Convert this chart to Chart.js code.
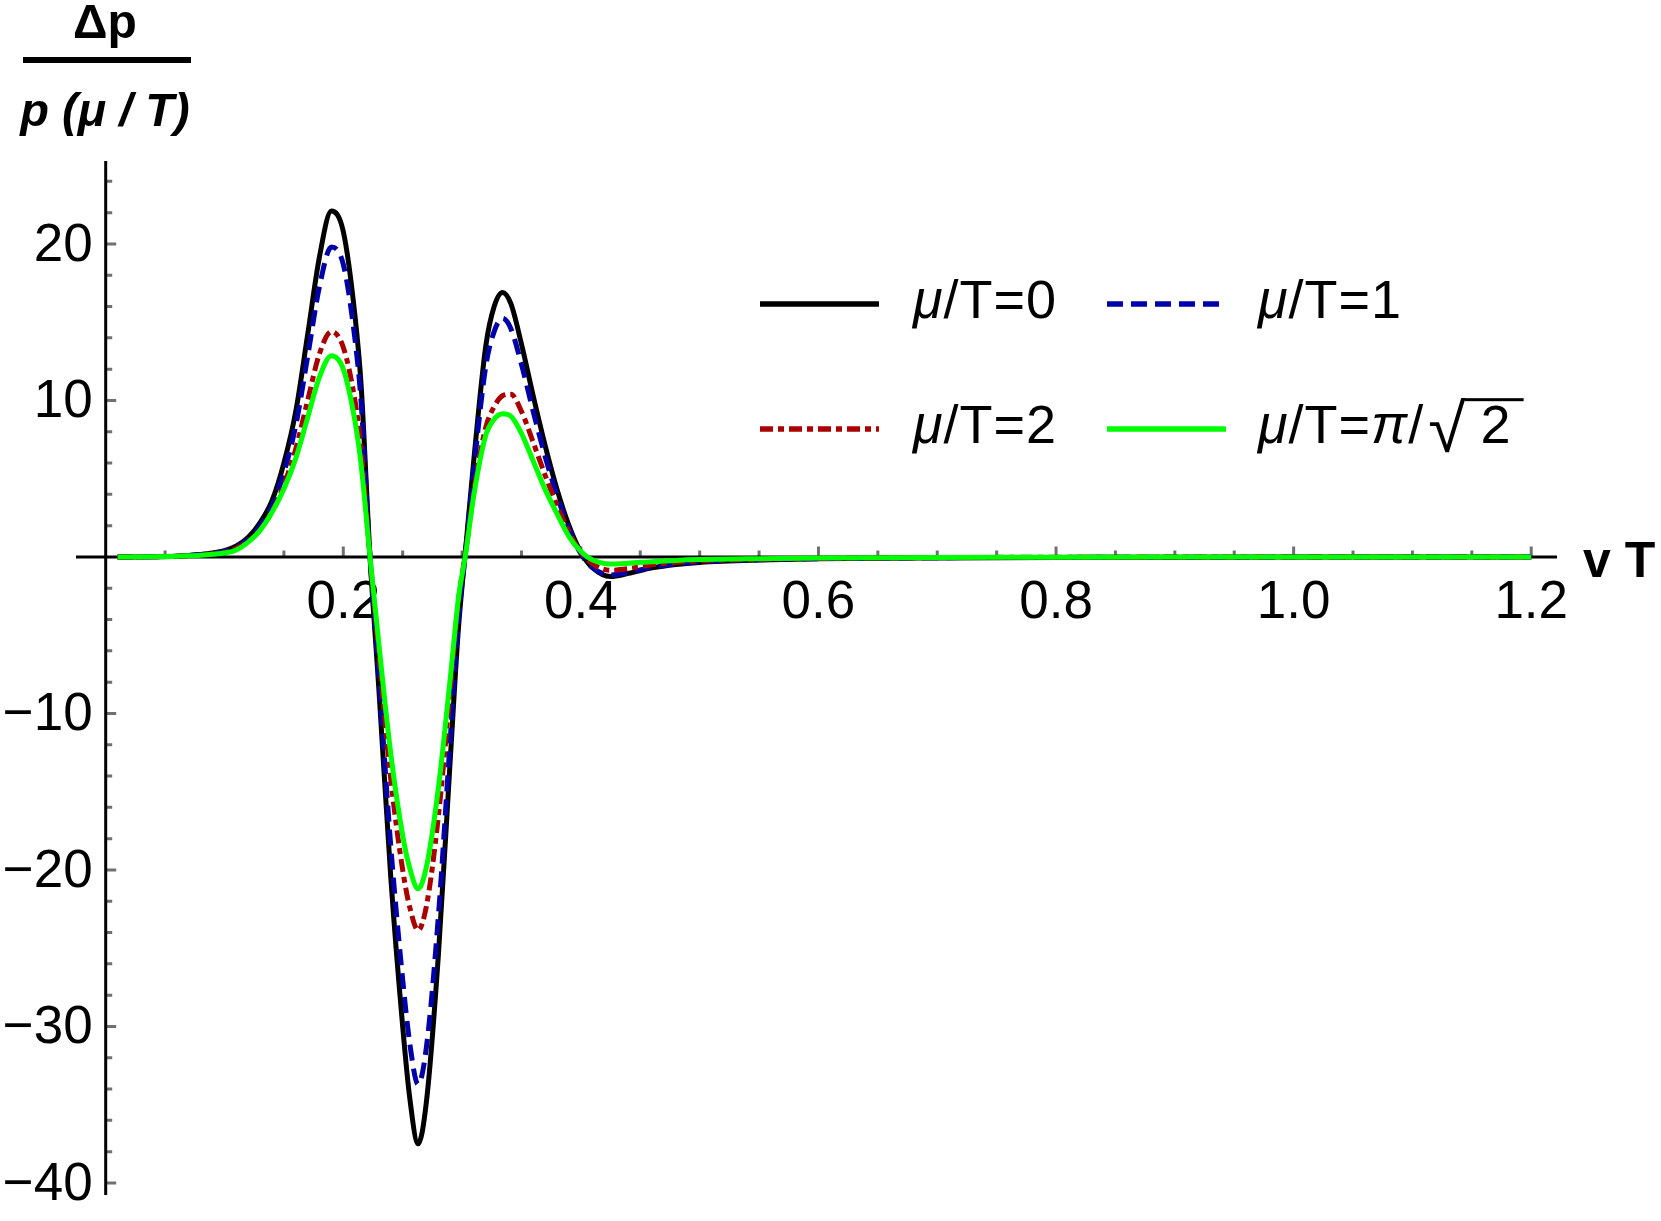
<!DOCTYPE html>
<html lang="en">
<head>
<meta charset="UTF-8">
<title>Delta p / p vs vT</title>
<script src="https://cdn.jsdelivr.net/npm/chart.js@4.4.0/dist/chart.umd.min.js"></script>
<style>
  html, body { margin: 0; padding: 0; background: #fff; }
  canvas { display: block; }
</style>
</head>
<body>
<canvas id="chart" width="1661" height="1221"></canvas>
<script>
// values (x = v T)
const vT = [0.01, 0.02, 0.04, 0.06, 0.07, 0.08, 0.09, 0.10, 0.11, 0.12,
            0.13, 0.14, 0.15, 0.16, 0.17, 0.18, 0.19, 0.20, 0.21, 0.215,
            0.2225, 0.23, 0.24, 0.25, 0.256, 0.263, 0.27, 0.28, 0.29, 0.297,
            0.303, 0.31, 0.32, 0.327, 0.334, 0.341, 0.35, 0.36, 0.37, 0.38,
            0.39, 0.40, 0.41, 0.425, 0.44, 0.46, 0.48, 0.50, 0.55, 0.60,
            0.70, 0.80, 0.90, 1.0, 1.1, 1.2];

const mu0 = [0, 0, 0.01, 0.05, 0.1, 0.16, 0.25, 0.4, 0.7, 1.25,
             2.2, 3.6, 6.0, 9.3, 14.2, 19.2, 22.1, 20.8, 15.3, 11.0,
             0, -8.5, -20.5, -30, -34.6, -37.5, -34.8, -25.5, -13, -4.5,
             0.5, 6.3, 13.5, 16.0, 16.9, 16.2, 13.6, 10.25, 7.1, 4.3,
             2.0, 0.3, -0.7, -1.25, -1.05, -0.7, -0.48, -0.35, -0.2, -0.12,
             -0.06, -0.03, -0.02, -0.01, 0, 0];

const mu1 = [0, 0, 0.01, 0.05, 0.09, 0.15, 0.23, 0.37, 0.64, 1.13,
             2.0, 3.25, 5.4, 8.4, 12.8, 17.3, 19.8, 18.7, 13.8, 9.9,
             0, -7.7, -18.5, -27, -31.1, -33.7, -31.3, -23, -11.7, -4.0,
             0.45, 5.7, 12.2, 14.4, 15.25, 14.6, 12.3, 9.25, 6.4, 3.9,
             1.8, 0.2, -0.7, -1.15, -1.0, -0.65, -0.45, -0.32, -0.18, -0.11,
             -0.05, -0.03, -0.02, -0.01, 0, 0];

const mu2 = [0, 0, 0.01, 0.04, 0.07, 0.12, 0.2, 0.3, 0.55, 1.0,
             1.75, 2.9, 4.6, 6.9, 10.0, 13.0, 14.4, 13.4, 9.9, 7.0,
             0, -6.3, -14.2, -20.0, -22.4, -23.85, -22.3, -16.6, -8.6, -2.8,
             0.3, 4.3, 8.3, 9.6, 10.3, 10.4, 9.3, 7.3, 5.2, 3.3,
             1.6, 0.3, -0.45, -0.85, -0.75, -0.5, -0.35, -0.25, -0.15, -0.09,
             -0.04, -0.02, -0.01, 0, 0, 0];

const muPi = [0, 0, 0.01, 0.04, 0.07, 0.11, 0.17, 0.25, 0.45, 0.95,
              1.7, 2.85, 4.35, 6.3, 8.9, 11.5, 12.85, 12.0, 8.6, 5.9,
              0, -5.6, -12.6, -17.8, -19.9, -21.2, -19.8, -14.8, -7.8, -2.6,
              0.2, 4.0, 7.8, 8.8, 9.15, 9.0, 7.9, 6.1, 4.3, 2.75,
              1.3, 0.35, -0.2, -0.45, -0.4, -0.3, -0.22, -0.17, -0.11, -0.07,
              -0.03, -0.02, -0.01, 0, 0, 0];

const seriesLabels = ['μ/T=0', 'μ/T=1', 'μ/T=2', 'μ/T=π/√2'];
const xMajorTicks = [0.2, 0.4, 0.6, 0.8, 1.0, 1.2];
const yMajorTicks = [-40, -30, -20, -10, 10, 20];

const FONT = '"Liberation Sans", Arial, sans-serif';
Chart.defaults.font.family = FONT;

const styles = [
  { color: '#000000', dash: [], order: 3 },
  { color: '#0000AA', dash: [16, 8], order: 2 },
  { color: '#AA0000', dash: [13, 5, 6, 5], order: 1 },
  { color: '#00FF00', dash: [], order: 0 }
];
const allY = [mu0, mu1, mu2, muPi];

const datasets = allY.map((ys, i) => ({
  label: seriesLabels[i],
  data: vT.map((x, k) => ({ x: x, y: ys[k] })),
  borderColor: styles[i].color,
  borderDash: styles[i].dash,
  borderWidth: 5,
  pointRadius: 0,
  fill: false,
  cubicInterpolationMode: 'monotone',
  order: styles[i].order
}));

const noPad = s => { s.paddingTop = 0; s.paddingBottom = 0; s.paddingLeft = 0; s.paddingRight = 0; };

// axes lines, tick marks and y tick labels, drawn under the curves
const axesDecor = {
  id: 'axesDecor',
  beforeDatasetsDraw(chart) {
    const { ctx, chartArea, scales: { x, y } } = chart;
    const x0 = x.getPixelForValue(0), y0 = y.getPixelForValue(0);
    ctx.save();
    ctx.strokeStyle = '#707070';
    ctx.lineWidth = 3;
    ctx.beginPath();
    for (let i = 1; i <= 24; i++) {
      const px = x.getPixelForValue(i * 0.05);
      const len = i % 4 === 0 ? 9 : 5;
      ctx.moveTo(px, y0); ctx.lineTo(px, y0 - 1.5 - len);
    }
    for (let v = -40; v <= 24; v += 2) {
      if (v === 0) continue;
      const py = y.getPixelForValue(v);
      const len = v % 10 === 0 ? 9 : 5;
      ctx.moveTo(x0, py); ctx.lineTo(x0 + 1.5 + len, py);
    }
    ctx.stroke();
    ctx.strokeStyle = '#000';
    ctx.lineWidth = 3;
    ctx.beginPath();
    ctx.moveTo(chartArea.left, y0); ctx.lineTo(chartArea.right, y0);
    ctx.moveTo(x0, chartArea.top); ctx.lineTo(x0, chartArea.bottom);
    ctx.stroke();

    ctx.fillStyle = '#000';
    ctx.font = '53px ' + FONT;
    ctx.textAlign = 'right';
    ctx.textBaseline = 'middle';
    yMajorTicks.forEach(v => {
      const label = v < 0 ? '\u2212' + Math.abs(v) : String(v);
      ctx.fillText(label, x0 - 13, y.getPixelForValue(v) + 2);
    });
    ctx.restore();
  }
};

function drawRich(ctx, text, x, y, size) {
  ctx.letterSpacing = '1px';
  for (let k = 0; k < text.length; k++) {
    const ch = text[k];
    const italic = ch === 'μ' || ch === 'π';
    if (ch === '√') {
      ctx.font = '68px ' + FONT;
      ctx.fillText(ch, x + 4, y + 9);
      x += ctx.measureText(ch).width + 18;
      continue;
    }
    ctx.font = (italic ? 'italic ' : '') + size + 'px ' + FONT;
    ctx.fillText(ch, x, y);
    const w = ctx.measureText(ch).width;
    if (text[k - 1] === '√') {
      ctx.fillRect(x - 16, y - size * 0.83, w + 28, 3);
    }
    x += w;
  }
  ctx.letterSpacing = '0px';
}

// legend, axis titles
const annotations = {
  id: 'annotations',
  afterDraw(chart) {
    const { ctx } = chart;
    ctx.save();
    ctx.fillStyle = '#000';
    ctx.textBaseline = 'alphabetic';
    const rows = [[760, 304, 913], [1107, 304, 1258], [760, 429, 913], [1107, 429, 1258]];
    rows.forEach((r, i) => {
      ctx.strokeStyle = styles[i].color;
      ctx.lineWidth = 5.5;
      ctx.setLineDash(styles[i].dash);
      ctx.beginPath();
      ctx.moveTo(r[0], r[1]); ctx.lineTo(r[0] + 119, r[1]);
      ctx.stroke();
      ctx.setLineDash([]);
      drawRich(ctx, seriesLabels[i], r[2], r[1] + 14, 54);
    });

    // y title: fraction
    ctx.textAlign = 'center';
    ctx.font = 'bold 48px ' + FONT;
    ctx.fillText('Δp', 105, 38);
    ctx.fillRect(23, 57, 168, 6);
    ctx.font = 'italic bold 47px ' + FONT;
    ctx.fillText('p (μ / T)', 105, 126);

    // x title
    ctx.textAlign = 'left';
    ctx.font = 'bold 50px ' + FONT;
    ctx.fillText('v T', 1583, 577);
    ctx.restore();
  }
};

new Chart(document.getElementById('chart').getContext('2d'), {
  type: 'line',
  data: { datasets: datasets },
  options: {
    responsive: false,
    animation: false,
    events: [],
    layout: { padding: { left: 76, right: 104, top: 161, bottom: 26 } },
    plugins: { legend: { display: false }, tooltip: { enabled: false } },
    scales: {
      x: {
        type: 'linear',
        position: { y: 0 },
        min: -0.025,
        max: 1.2217,
        grid: { display: false, drawTicks: false },
        border: { display: false },
        afterFit: noPad,
        afterBuildTicks: s => { s.ticks = xMajorTicks.map(v => ({ value: v })); },
        ticks: {
          autoSkip: false, maxRotation: 0, padding: 15,
          color: '#000', font: { size: 53 },
          callback: v => Number(v).toFixed(1)
        }
      },
      y: {
        type: 'linear',
        position: { x: 0 },
        min: -40.77,
        max: 25.3,
        grid: { display: false, drawTicks: false },
        border: { display: false },
        afterFit: noPad,
        afterBuildTicks: s => { s.ticks = yMajorTicks.map(v => ({ value: v })); },
        ticks: { display: false }
      }
    }
  },
  plugins: [axesDecor, annotations]
});
</script>
</body>
</html>
